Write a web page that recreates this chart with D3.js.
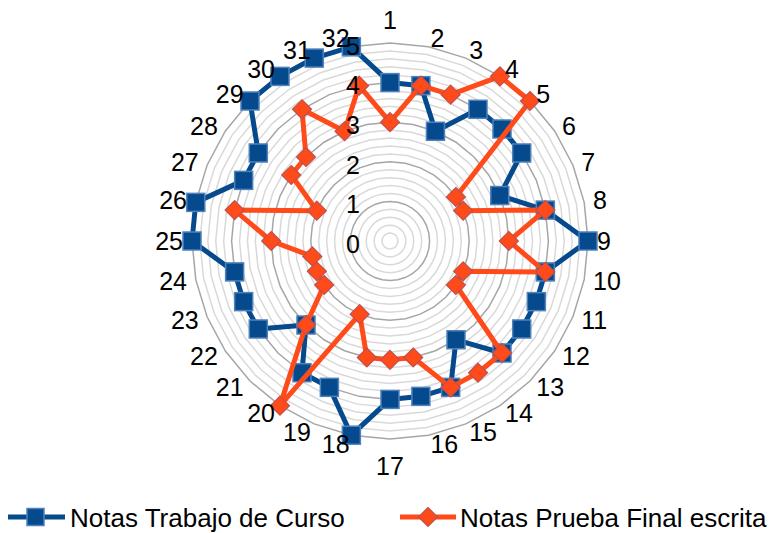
<!DOCTYPE html>
<html>
<head>
<meta charset="utf-8">
<script src="https://cdn.jsdelivr.net/npm/d3@7"></script>
<style>
  html, body { margin: 0; padding: 0; background: #ffffff; }
  svg { display: block; }
  text { font-family: "Liberation Sans", Arial, sans-serif; fill: #000; }
</style>
</head>
<body>
<div id="chart"></div>
<script>
// ---- Data ----
const categories = ["1","2","3","4","5","6","7","8","9","10","11","12","13","14","15","16",
                    "17","18","19","20","21","22","23","24","25","26","27","28","29","30","31","32"];
const trabajoCurso = [4,4,3,4,4,4,3,4,5,4,4,4,4,3,4,4,4,5,4,4,3,4,4,4,5,5,4,4,5,5,5,5];
const pruebaFinal  = [3,4,4,5,5,2,2,4,3,4,2,2,4,4,4,3,3,3,2,5,3,2,2,2,3,4,2,3,3,4,3,4];
const valueTicks = [0,1,2,3,4,5];
const seriesNames = ["Notas Trabajo de Curso", "Notas Prueba Final escrita"];

// ---- Layout ----
const W = 775, H = 533;
const cx = 390, cy = 241, R = 198;
const blue = "#054a8c", blueEdge = "#4f81bd";
const orange = "#ff4a1a", orangeEdge = "#c0504d";

const svg = d3.select("#chart").append("svg").attr("width", W).attr("height", H);

const r = d3.scaleLinear().domain([0, 5]).range([0, R]);
const angle = d3.scaleLinear().domain([0, categories.length]).range([0, 2 * Math.PI]);

const g = svg.append("g").attr("transform", `translate(${cx},${cy})`);

// ---- Gridlines (32-gon rings) ----
const ringLine = d3.lineRadial().curve(d3.curveLinearClosed);
function ring(v) {
  return ringLine(categories.map((_, i) => [angle(i), r(v)]));
}
const minorTicks = r.ticks(25).filter(v => v > 0 && Math.abs(v - Math.round(v)) > 1e-6);
const majorTicks = valueTicks.filter(v => v > 0);

g.append("g").selectAll("path").data(minorTicks).join("path")
  .attr("d", ring).attr("fill", "none").attr("stroke", "#d9d9d9").attr("stroke-width", 1.5);
g.append("g").selectAll("path").data(majorTicks).join("path")
  .attr("d", ring).attr("fill", "none").attr("stroke", "#a6a6a6").attr("stroke-width", 1.5);

// ---- Series ----
const seriesLine = d3.lineRadial()
  .angle((d, i) => angle(i))
  .radius(d => r(d))
  .curve(d3.curveLinearClosed);

function pos(v, i) {
  const a = angle(i);
  return [r(v) * Math.sin(a), -r(v) * Math.cos(a)];
}

// Series 1: squares
g.append("path").datum(trabajoCurso).attr("d", seriesLine)
  .attr("fill", "none").attr("stroke", blue).attr("stroke-width", 5).attr("stroke-linejoin", "round");
g.append("g").selectAll("rect").data(trabajoCurso).join("rect")
  .attr("x", (d, i) => pos(d, i)[0] - 9)
  .attr("y", (d, i) => pos(d, i)[1] - 9)
  .attr("width", 18).attr("height", 18)
  .attr("fill", blue).attr("stroke", blueEdge).attr("stroke-width", 1.5);

// Series 2: diamonds
g.append("path").datum(pruebaFinal).attr("d", seriesLine)
  .attr("fill", "none").attr("stroke", orange).attr("stroke-width", 5).attr("stroke-linejoin", "round");
const diamond = "M0,-9.5L9.5,0L0,9.5L-9.5,0Z";
g.append("g").selectAll("path").data(pruebaFinal).join("path")
  .attr("d", diamond)
  .attr("transform", (d, i) => `translate(${pos(d, i)[0]},${pos(d, i)[1]})`)
  .attr("fill", orange).attr("stroke", orangeEdge).attr("stroke-width", 1.2);

// ---- Value axis labels ----
g.append("g").selectAll("text").data(valueTicks).join("text")
  .attr("x", -30).attr("y", d => -r(d) + 3).attr("dy", "0.35em")
  .attr("text-anchor", "end").attr("font-size", 25)
  .text(d => d);

// ---- Category labels ----
const D = 207;
g.append("g").selectAll("text").data(categories).join("text")
  .each(function (d, i) {
    const a = angle(i), s = Math.sin(a), c = Math.cos(a);
    const t = d3.select(this).attr("font-size", 25).text(d);
    if (Math.abs(s) < 1e-6) {
      t.attr("text-anchor", "middle").attr("x", 0);
      if (c > 0) t.attr("y", -212);
      else t.attr("y", 216 + 18);
    } else {
      t.attr("text-anchor", s > 0 ? "start" : "end")
       .attr("x", D * s).attr("y", -D * c).attr("dy", "0.35em");
    }
  });

// ---- Legend ----
const lg = svg.append("g");
const ly = 517;
lg.append("line").attr("x1", 8).attr("x2", 65).attr("y1", ly).attr("y2", ly)
  .attr("stroke", blue).attr("stroke-width", 5);
lg.append("rect").attr("x", 35.5 - 8.5).attr("y", ly - 8.5).attr("width", 17).attr("height", 17)
  .attr("fill", blue).attr("stroke", blueEdge).attr("stroke-width", 1.5);
lg.append("text").attr("x", 70).attr("y", 526.5).attr("font-size", 26).text(seriesNames[0]);

lg.append("line").attr("x1", 400).attr("x2", 456).attr("y1", ly).attr("y2", ly)
  .attr("stroke", orange).attr("stroke-width", 5);
lg.append("path").attr("d", diamond).attr("transform", `translate(428,${ly})`)
  .attr("fill", orange).attr("stroke", orangeEdge).attr("stroke-width", 1.2);
lg.append("text").attr("x", 460).attr("y", 526.5).attr("font-size", 26).text(seriesNames[1]);
</script>
</body>
</html>
